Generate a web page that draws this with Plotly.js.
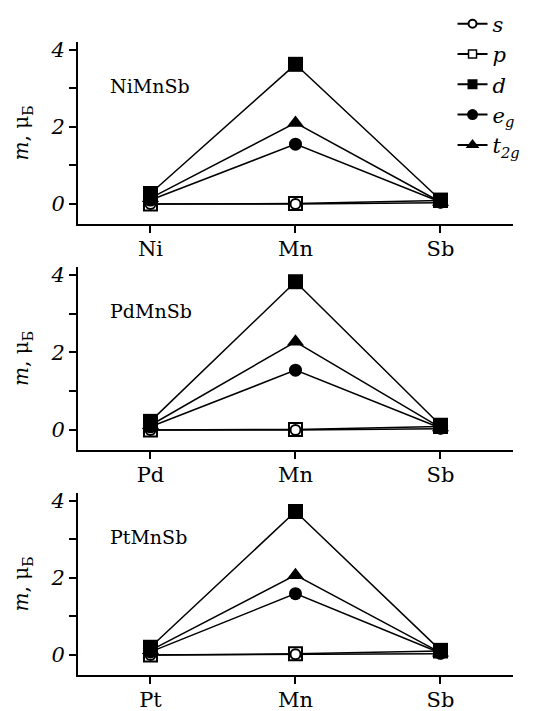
<!DOCTYPE html>
<html><head><meta charset="utf-8">
<script src="https://cdn.plot.ly/plotly-3.0.1.min.js"></script>
<style>html,body{margin:0;padding:0;background:#fff}#chart{width:540px;height:711px}</style>
</head><body><div id="chart"></div>
<script>
// Data
const compounds = ['NiMnSb', 'PdMnSb', 'PtMnSb'];
const siteNi = ['Ni', 'Mn', 'Sb'];
const sitePd = ['Pd', 'Mn', 'Sb'];
const sitePt = ['Pt', 'Mn', 'Sb'];
const seriesNames = ['<i>s</i>', '<i>p</i>', '<i>d</i>', '<i>e</i><sub><i>g</i></sub>', '<i>t</i><sub><i>2g</i></sub>'];
// NiMnSb
const ni_s = [0.00, 0.00, 0.03];
const ni_p = [0.00, 0.01, 0.09];
const ni_d = [0.27, 3.62, 0.10];
const ni_eg = [0.10, 1.55, 0.05];
const ni_t2g = [0.15, 2.10, 0.05];
// PdMnSb
const pd_s = [0.00, 0.00, 0.03];
const pd_p = [0.00, 0.01, 0.09];
const pd_d = [0.22, 3.82, 0.12];
const pd_eg = [0.08, 1.54, 0.05];
const pd_t2g = [0.12, 2.27, 0.06];
// PtMnSb
const pt_s = [0.00, 0.02, 0.03];
const pt_p = [0.00, 0.03, 0.10];
const pt_d = [0.20, 3.72, 0.12];
const pt_eg = [0.08, 1.59, 0.05];
const pt_t2g = [0.12, 2.07, 0.06];

const panels = [
  {sites: siteNi, vals: [ni_s, ni_p, ni_d, ni_eg, ni_t2g]},
  {sites: sitePd, vals: [pd_s, pd_p, pd_d, pd_eg, pd_t2g]},
  {sites: sitePt, vals: [pt_s, pt_p, pt_d, pt_eg, pt_t2g]}
];
const markerStyles = [
  {symbol: 'circle', size: 10, color: '#fff', line: {color: '#000', width: 2}},
  {symbol: 'square', size: 13, color: '#fff', line: {color: '#000', width: 2}},
  {symbol: 'square', size: 15, color: '#000', line: {color: '#000', width: 0}},
  {symbol: 'circle', size: 13, color: '#000', line: {color: '#000', width: 0}},
  {symbol: 'triangle-up', size: 15, color: '#000', line: {color: '#000', width: 0}}
];
const legendMarkers = [
  {symbol: 'circle', size: 8, color: '#fff', line: {color: '#000', width: 2}},
  {symbol: 'square', size: 8, color: '#fff', line: {color: '#000', width: 1.5}},
  {symbol: 'square', size: 10, color: '#000', line: {width: 0}},
  {symbol: 'circle', size: 11, color: '#000', line: {width: 0}},
  {symbol: 'triangle-up', size: 12, color: '#000', line: {width: 0}}
];
const drawOrder = [1, 0, 3, 4, 2];

const traces = [];
panels.forEach((p, i) => {
  const ax = i === 0 ? '' : String(i + 1);
  drawOrder.forEach(k => {
    traces.push({
      x: p.sites, y: p.vals[k], name: seriesNames[k],
      xaxis: 'x' + ax, yaxis: 'y' + ax,
      type: 'scatter', mode: 'lines+markers',
      line: {color: '#000', width: 1.5},
      marker: markerStyles[k],
      showlegend: false, cliponaxis: false
    });
  });
});
// legend entries (no data drawn)
seriesNames.forEach((nm, k) => {
  traces.push({
    x: [null], y: [null], name: nm, type: 'scatter', mode: 'lines+markers',
    line: {color: '#000', width: 2}, marker: legendMarkers[k],
    showlegend: true, legendrank: k + 1, hoverinfo: 'skip'
  });
});

const serif = 'DejaVu Serif, Liberation Serif, serif';
const doms = [[0.685, 0.941], [0.367, 0.6245], [0.0506, 0.3066]];
const layout = {
  width: 540, height: 711,
  margin: {l: 0, r: 0, t: 0, b: 0},
  paper_bgcolor: '#fff', plot_bgcolor: '#fff',
  font: {family: serif, color: '#000'},
  showlegend: true,
  legend: {x: 0.838, y: 0.995, xanchor: 'left', yanchor: 'top', font: {family: serif, size: 21},
           bgcolor: 'rgba(0,0,0,0)', traceorder: 'normal', itemwidth: 30},
  annotations: [],
  shapes: []
};
panels.forEach((p, i) => {
  const ax = i === 0 ? '' : String(i + 1);
  layout['xaxis' + ax] = {
    domain: [0.1444, 0.95], anchor: 'y' + ax, type: 'category',
    categoryorder: 'array', categoryarray: p.sites, range: [-0.5, 2.5],
    showline: true, linecolor: '#000', linewidth: 2, showgrid: false, zeroline: false,
    ticks: 'outside', ticklen: 7, tickwidth: 2, tickcolor: '#000', ticklabelstandoff: -2,
    tickfont: {family: serif, size: 21, color: '#000'}, fixedrange: true
  };
  layout['yaxis' + ax] = {
    domain: doms[i], anchor: 'x' + ax, range: [-0.52, 4.2],
    showline: true, linecolor: '#000', linewidth: 2, showgrid: false, zeroline: false,
    tickvals: [0, 1, 2, 3, 4], ticktext: ['0', '', '2', '', '4'],
    ticks: 'outside', ticklen: 7, tickwidth: 2, tickcolor: '#000',
    tickfont: {family: serif, size: 21, color: '#000', style: 'italic'},
    title: {text: '<i>m</i>, μ<sub>Б</sub>', font: {family: serif, size: 20, color: '#000'}, standoff: 16}
  };
  layout.annotations.push({
    text: compounds[i], xref: 'x' + ax + ' domain', yref: 'y' + ax + ' domain',
    x: 0.07, y: 0.76, xanchor: 'left', yanchor: 'middle', showarrow: false,
    font: {family: serif, size: 19, color: '#000'}
  });
});
Plotly.newPlot('chart', traces, layout, {displayModeBar: false, staticPlot: true});
</script></body></html>
